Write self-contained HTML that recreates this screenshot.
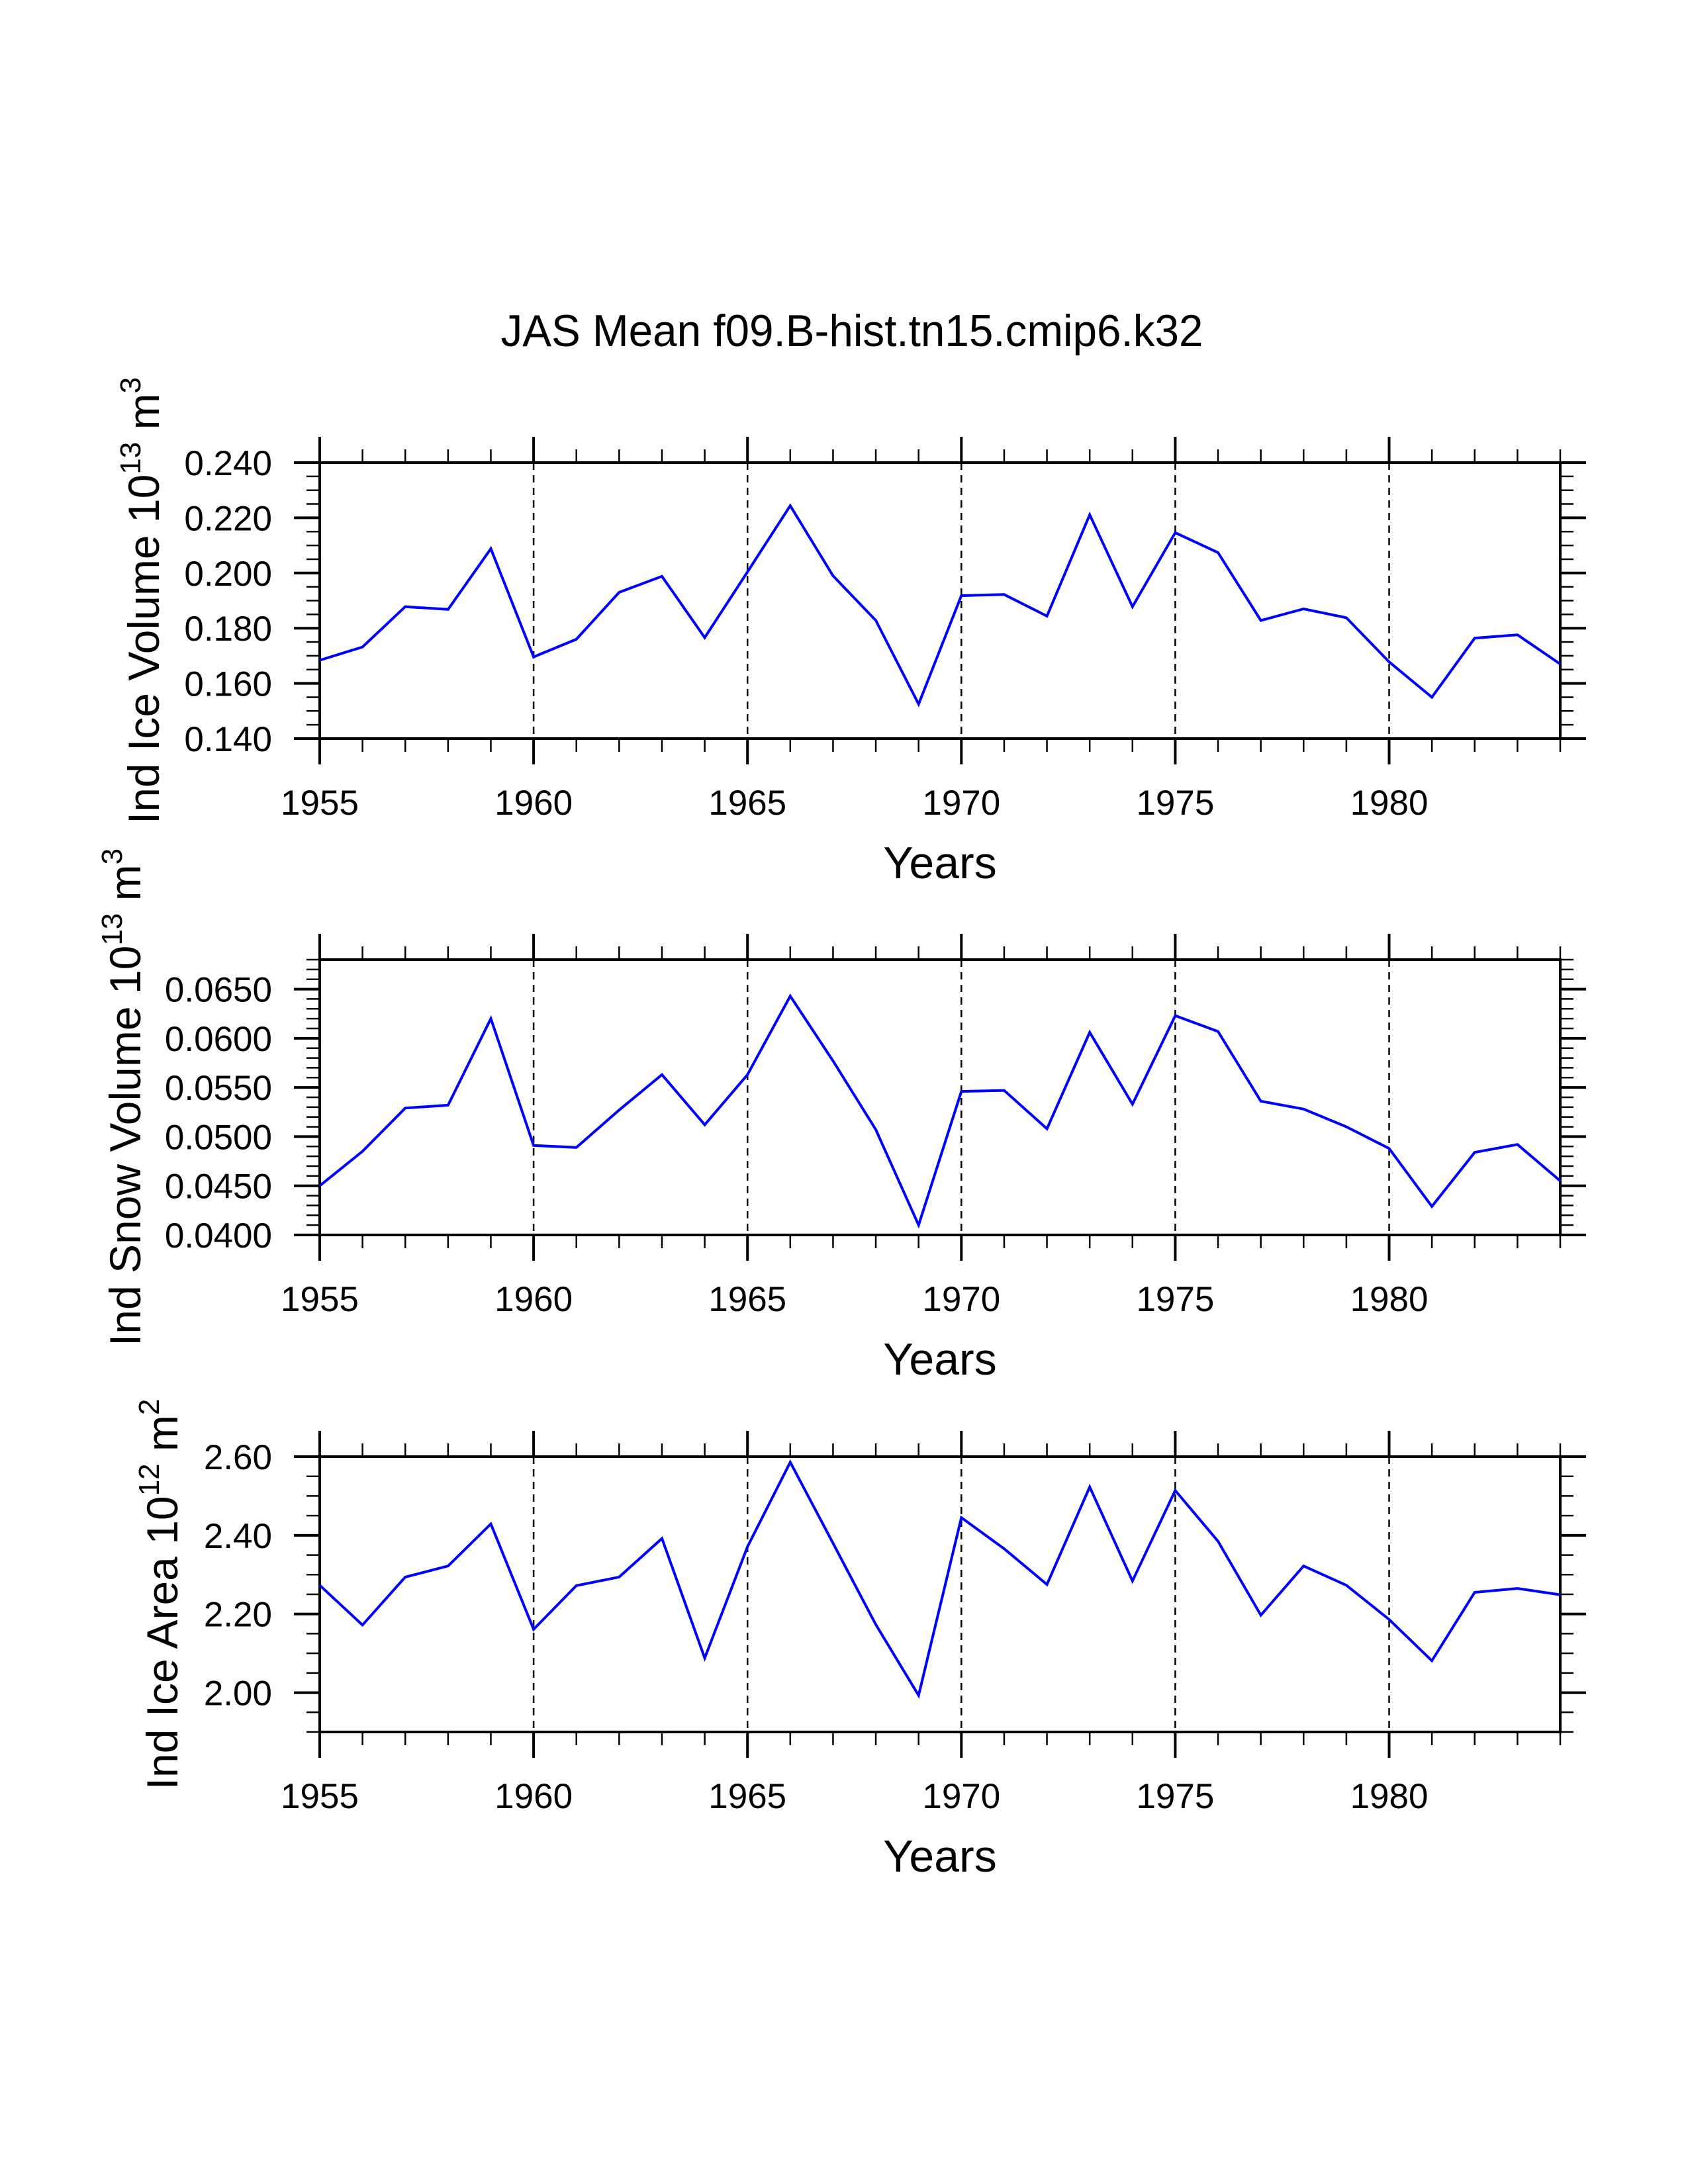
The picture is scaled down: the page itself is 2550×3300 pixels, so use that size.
<!DOCTYPE html>
<html><head><meta charset="utf-8">
<style>
html,body{margin:0;padding:0;background:#fff;}
svg{display:block;font-family:"Liberation Sans",Arial,sans-serif;}
</style></head>
<body>
<svg id="chart" width="2550" height="3300" viewBox="0 0 2550 3300" xmlns="http://www.w3.org/2000/svg">
<rect width="2550" height="3300" fill="#fff"/>
<text x="1287" y="523" font-size="68" text-anchor="middle" textLength="1061" lengthAdjust="spacingAndGlyphs">JAS Mean f09.B-hist.tn15.cmip6.k32</text>
</svg>
<script>
const years = [1955,1956,1957,1958,1959,1960,1961,1962,1963,1964,1965,1966,1967,1968,1969,1970,1971,1972,1973,1974,1975,1976,1977,1978,1979,1980,1981,1982,1983,1984];
const iceVolume = [0.1684,0.1732,0.1878,0.1868,0.2088,0.1696,0.1760,0.1930,0.1988,0.1766,0.2004,0.2244,0.1990,0.1828,0.1525,0.1918,0.1922,0.1844,0.2211,0.1878,0.2146,0.2074,0.1828,0.1870,0.1838,0.1678,0.1550,0.1764,0.1776,0.1670];
const snowVolume = [0.0450,0.0485,0.0529,0.0532,0.0620,0.0491,0.0489,0.0527,0.0563,0.0512,0.0563,0.0643,0.0577,0.0507,0.0410,0.0546,0.0547,0.0508,0.0606,0.0533,0.0623,0.0607,0.0536,0.0528,0.0510,0.0488,0.0429,0.0484,0.0492,0.0455];
const iceArea = [2.273,2.172,2.294,2.322,2.429,2.161,2.272,2.294,2.392,2.088,2.371,2.586,2.380,2.173,1.993,2.445,2.366,2.275,2.523,2.284,2.514,2.385,2.197,2.322,2.273,2.186,2.081,2.255,2.265,2.249];
const xTickLabels = ["1955","1960","1965","1970","1975","1980"];
const iceVolTicks = ["0.140","0.160","0.180","0.200","0.220","0.240"];
const snowVolTicks = ["0.0400","0.0450","0.0500","0.0550","0.0600","0.0650"];
const iceAreaTicks = ["2.00","2.20","2.40","2.60"];

const NS = "http://www.w3.org/2000/svg";
const svg = document.getElementById('chart');
const L = 483, R = 2357;
function mk(tag, attrs, parent){ const e=document.createElementNS(NS,tag); for(const k in attrs) e.setAttribute(k,attrs[k]); (parent||svg).appendChild(e); return e; }
function xs(yr){ return L + (yr-1955)/(1984-1955)*(R-L); }

function panel(key, top, bottom, ymin, ymax, minorStep, ticks, values, titleParts, titleX){
  const g = mk('g',{});
  
  
  const ys = v => bottom - (v-ymin)/(ymax-ymin)*(bottom-top);
  for(let yr=1960; yr<=1980; yr+=5){
    const ln = mk('line',{x1:xs(yr),x2:xs(yr),y1:top,y2:bottom,stroke:'#000','stroke-width':2.5,'stroke-dasharray':'11,8'},g);
    
    
  }
  for(let yr=1955; yr<=1984; yr++){
    const major = (yr%5===0);
    const len = major?39:20, w = major?4:2.5;
    mk('line',{x1:xs(yr),x2:xs(yr),y1:bottom,y2:bottom+len,stroke:'#000','stroke-width':w},g);
    mk('line',{x1:xs(yr),x2:xs(yr),y1:top,y2:top-len,stroke:'#000','stroke-width':w},g);
  }
  xTickLabels.forEach(s=>{
    const t = mk('text',{x:xs(+s),y:bottom+115,'font-size':53,'text-anchor':'middle'},g);
    t.textContent = s;
    
    
  });
  const n = Math.round((ymax-ymin)/minorStep);
  for(let i=0;i<=n;i++){
    const v = ymin + i*minorStep, y = ys(v);
    mk('line',{x1:L,x2:L-20,y1:y,y2:y,stroke:'#000','stroke-width':2.5},g);
    mk('line',{x1:R,x2:R+20,y1:y,y2:y,stroke:'#000','stroke-width':2.5},g);
  }
  ticks.forEach(s=>{
    const y = ys(parseFloat(s));
    mk('line',{x1:L,x2:L-39,y1:y,y2:y,stroke:'#000','stroke-width':4},g);
    mk('line',{x1:R,x2:R+39,y1:y,y2:y,stroke:'#000','stroke-width':4},g);
    const t = mk('text',{x:411,y:y+19,'font-size':53,'text-anchor':'end'},g);
    t.textContent = s;
    
    
  });
  const fr = mk('rect',{x:L,y:top,width:R-L,height:bottom-top,fill:'none',stroke:'#000','stroke-width':4},g);
  
  
  const pts = values.map((v,i)=>xs(years[i]).toFixed(1)+','+ys(v).toFixed(1)).join(' ');
  const pl = mk('polyline',{points:pts,fill:'none',stroke:'#0000ff','stroke-width':4,'stroke-linejoin':'miter'},g);
  
  
  const xt = mk('text',{x:(L+R)/2,y:bottom+211,'font-size':68,'text-anchor':'middle'},g);
  xt.textContent = 'Years';
  
  
  const cy = (top+bottom)/2;
  const yt = mk('text',{x:0,y:0,'font-size':66,'text-anchor':'middle',transform:`translate(${titleX},${cy}) rotate(-90)`},g);
  
  
  titleParts.forEach(p=>{
    const ts = document.createElementNS(NS,'tspan');
    ts.textContent = p[0];
    if(p[1]){ ts.setAttribute('font-size','44'); ts.setAttribute('dy','-28'); }
    else if(p[2]){ ts.setAttribute('dy','28'); }
    yt.appendChild(ts);
  });
}

panel('ice-volume', 699, 1116, 0.140, 0.240, 0.005, iceVolTicks, iceVolume,
  [['Ind Ice Volume 10'],['13',true],[' m',false,true],['3',true]], 240);
panel('snow-volume', 1450, 1866, 0.040, 0.068, 0.001, snowVolTicks, snowVolume,
  [['Ind Snow Volume 10'],['13',true],[' m',false,true],['3',true]], 212);
panel('ice-area', 2201, 2617, 1.90, 2.60, 0.05, iceAreaTicks, iceArea,
  [['Ind Ice Area 10'],['12',true],[' m',false,true],['2',true]], 268);
</script>
</body></html>
